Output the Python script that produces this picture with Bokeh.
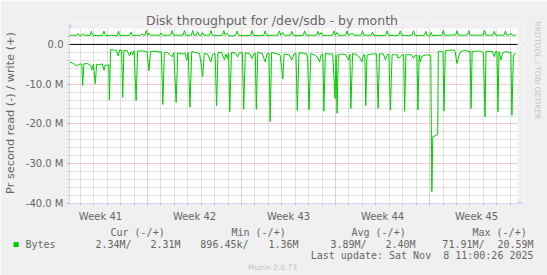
from bokeh.plotting import figure
from bokeh.models import (Range1d, FixedTicker, Grid, Span, Arrow, NormalHead,
                          BoxAnnotation, Title)
from bokeh.embed import file_html
from bokeh.resources import INLINE

# ---- data: days since Sun 2025-10-05 00:00, values in M bytes/s ----
read_day = [1.19, 1.49, 1.71, 1.93, 2.10, 2.17, 2.26, 2.52, 2.74, 2.87, 2.97, 3.11, 3.21, 3.41,
            3.63, 3.76, 3.85, 4.00, 4.11, 4.16, 4.25, 4.45, 4.67, 4.82, 4.93, 5.07, 5.15, 5.24,
            5.48, 5.67, 5.78, 5.90, 6.00, 6.15, 6.26, 6.52, 6.74, 6.96, 7.11, 7.22, 7.55, 7.85,
            8.03, 8.14, 8.25, 8.51, 8.83, 8.96, 9.13, 9.25, 9.42, 9.67, 9.77, 9.92, 10.03, 10.16,
            10.29, 10.58, 10.88, 11.10, 11.23, 11.47, 11.72, 11.84, 12.03, 12.14, 12.25, 12.51,
            12.73, 12.84, 12.95, 13.04, 13.12, 13.25, 13.54, 13.71, 13.84, 14.06, 14.16, 14.28,
            14.58, 14.78, 14.91, 15.02, 15.10, 15.21, 15.54, 15.76, 15.89, 16.04, 16.13, 16.24,
            16.65, 16.87, 17.07, 17.17, 17.54, 17.74, 17.91, 18.05, 18.15, 18.28, 18.57, 18.87,
            18.93, 19.02, 19.16, 19.53, 19.68, 19.81, 19.93, 20.05, 20.13, 20.24, 20.50, 20.79,
            20.96, 21.04, 21.11, 21.21, 21.46, 21.75, 21.97, 22.07, 22.14, 22.27, 22.57, 22.84,
            22.96, 23.08, 23.18, 23.25, 23.34, 23.68, 24.05, 24.17, 24.27, 24.56, 24.71, 24.84,
            24.97, 25.08, 25.21, 25.60, 25.65, 25.82, 25.97, 26.07, 26.14, 26.24, 26.64, 26.80,
            26.93, 27.06, 27.13, 27.23, 27.30, 27.43, 27.74, 27.97, 28.09, 28.17, 28.24, 28.41,
            28.61, 28.65, 28.85, 29.00, 29.07, 29.17, 29.44, 29.74, 29.89, 30.04, 30.19, 30.33,
            30.70, 30.85, 31.02, 31.09, 31.17, 31.44, 31.81, 32.01, 32.13, 32.20, 32.48, 32.70,
            32.82, 32.92, 33.02, 33.09, 33.17, 33.31, 33.44, 33.66, 33.94, 34.05, 34.13, 34.24,
            34.43]
read_val = [-4.4, -4.8, -5.4, -5.0, -4.9, -10.3, -4.9, -4.8, -5.2, -6.4, -5.0, -9.9, -5.0, -5.1,
            -4.9, -6.5, -5.2, -5.3, -5.1, -14.0, -1.3, -1.4, -1.5, -2.9, -1.4, -1.5, -13.3, -1.5,
            -1.6, -2.9, -1.8, -2.6, -1.6, -14.1, -1.7, -1.6, -1.7, -1.8, -6.6, -1.8, -1.7, -1.9,
            -1.8, -15.1, -2.0, -2.1, -3.1, -2.1, -14.6, -2.1, -2.3, -2.4, -2.1, -3.9, -2.0, -15.8,
            -1.8, -2.0, -2.3, -8.1, -2.3, -2.4, -4.4, -2.5, -2.3, -15.4, -2.0, -2.0,
            -3.9, -2.4, -3.5, -2.2, -16.9, -2.0, -2.2, -3.1, -2.1, -2.1, -16.3, -2.1,
            -2.3, -3.5, -2.4, -2.2, -16.3, -2.0, -2.3, -4.4, -2.4, -2.2, -19.4, -2.0,
            -2.4, -2.6, -8.7, -2.4, -2.6, -3.9, -2.4, -2.2, -16.6, -2.1, -2.2, -2.4,
            -4.4, -16.5, -2.3, -2.8, -3.4, -4.4, -2.6, -2.4, -16.8, -2.3, -2.4, -2.4,
            -13.6, -2.6, -17.3, -2.6, -2.4, -2.6, -3.9, -2.5, -16.1, -2.3, -2.6, -3.5,
            -4.4, -2.6, -2.6, -15.4, -2.7, -2.4, -2.4, -16.1, -2.4, -2.4, -3.9, -2.6,
            -2.4, -16.5, -2.6, -2.6, -3.5, -3.1, -2.6, -2.6, -16.8, -2.6, -2.6, -3.5,
            -2.7, -2.7, -16.5, -2.7, -4.4, -3.0, -2.6, -2.7, -2.7, -37.0, -23.2, -23.0,
            -22.6, -1.8, -1.7, -1.9, -16.8, -1.6, -1.5, -1.4, -1.6, -4.8, -2.7, -1.8,
            -1.4, -1.8, -1.8, -16.1, -1.8, -1.7, -1.7, -2.1, -18.2, -1.7, -1.8, -1.8,
            -3.1, -1.8, -1.8, -16.9, -1.8, -3.9, -2.1, -1.8, -2.1, -1.9, -17.8, -2.7,
            -2.34]

write_day = [1.19, 1.73, 1.83, 1.93, 2.10, 2.20, 2.30, 2.72, 2.82, 2.92, 3.30, 3.66, 3.76, 3.86,
             4.30, 4.74, 4.84, 4.94, 5.30, 5.68, 5.78, 5.88, 6.20, 6.49, 6.59, 6.69, 6.81, 6.91,
             7.01, 7.11, 7.21, 7.60, 7.92, 8.02, 8.12, 8.50, 8.73, 8.83, 8.93, 9.30, 9.65, 9.75,
             9.85, 10.26, 10.36, 10.46, 10.63, 10.73, 10.83, 11.00, 11.10, 11.20, 11.62, 11.72,
             11.82, 12.20, 12.58, 12.68, 12.78, 12.93, 13.03, 13.30, 13.57, 13.67, 13.77, 14.20,
             14.68, 14.78, 14.88, 15.30, 15.66, 15.76, 15.86, 16.30, 16.72, 16.82, 16.92, 17.07,
             17.17, 17.64, 17.74, 17.84, 18.20, 18.60, 18.70, 18.80, 19.20, 19.58, 19.68, 19.78,
             19.93, 20.03, 20.40, 20.77, 20.87, 20.97, 21.11, 21.21, 21.75, 21.85, 21.95, 22.27,
             22.37, 22.91, 23.01, 23.11, 23.65, 23.75, 23.85, 24.30, 24.74, 24.84, 24.94, 25.40,
             25.72, 25.82, 25.92, 26.30, 26.70, 26.80, 26.90, 27.30, 27.62, 27.72, 27.82, 28.01,
             28.11, 28.21, 28.60, 28.92, 29.02, 29.12, 29.60, 29.94, 30.04, 30.14, 30.50, 30.82,
             30.92, 31.02, 31.50, 31.99, 32.09, 32.19, 32.50, 32.72, 32.82, 32.92, 33.30, 33.55,
             33.65, 33.75, 33.95, 34.05, 34.15, 34.43]
write_val = [2.3, 2.3, 2.7, 2.25, 2.3, 2.7, 2.3, 2.25, 3.3, 2.3, 2.2, 2.3, 3.35, 2.25,
             2.3, 2.2, 3.35, 2.3, 2.25, 2.3, 3.1, 2.25, 2.3, 2.3, 2.6, 2.3, 2.3, 3.5,
             2.3, 2.85, 2.3, 2.35, 2.3, 2.9, 2.3, 2.3, 2.35, 3.5, 2.3, 2.3, 2.35, 3.5,
             2.3, 2.3, 3.5, 2.3, 2.3, 3.2, 2.3, 2.3, 3.0, 2.3, 2.3, 3.5,
             2.3, 2.25, 2.3, 3.5, 2.3, 2.8, 2.2, 2.1, 2.3, 3.4, 2.3, 2.2,
             2.3, 3.5, 2.3, 2.2, 2.3, 3.4, 2.25, 2.3, 2.3, 3.4, 2.3, 3.0,
             2.3, 2.3, 3.3, 2.3, 2.2, 2.3, 3.4, 2.3, 2.3, 2.3, 3.3, 2.3,
             3.0, 2.3, 2.25, 2.3, 3.4, 2.3, 3.0, 2.3, 2.3, 3.4, 2.3, 2.8,
             2.3, 2.3, 3.4, 2.3, 2.3, 3.1, 2.3, 2.2, 2.3, 3.4, 2.3, 2.2,
             2.3, 3.4, 2.3, 2.25, 2.3, 3.4, 2.3, 2.2, 2.3, 3.3, 2.2, 2.1,
             3.0, 2.2, 2.3, 2.3, 3.5, 2.3, 2.35, 2.35, 3.4, 2.35, 2.3, 2.35,
             3.4, 2.35, 2.3, 2.35, 3.6, 2.35, 2.3, 2.35, 3.3, 2.35, 2.3, 2.35,
             3.4, 2.35, 2.35, 2.8, 2.35, 2.31]

week_mid = [3.5, 10.5, 17.5, 24.5, 31.5]
week_labels = ["Week 41", "Week 42", "Week 43", "Week 44", "Week 45"]
week_start = [7, 14, 21, 28]
day_ticks = [2, 3, 4, 5, 6, 7, 8, 9, 10, 11, 12, 13, 14, 15, 16, 17, 18, 19, 20, 21, 22,
             23, 24, 25, 26, 27, 28, 29, 30, 31, 32, 33, 34]
day_grid = [2, 3, 4, 5, 6, 8, 9, 10, 11, 12, 13, 15, 16, 17, 18, 19, 20, 22,
            23, 24, 25, 26, 27, 29, 30, 31, 32, 33, 34]
y_major = [0, -10, -20, -30, -40]
y_major_labels = ["0.0", "-10.0 M", "-20.0 M", "-30.0 M", "-40.0 M"]
y_minor = [2, -2, -4, -6, -8, -12, -14, -16, -18, -22, -24, -26, -28, -32, -34, -36, -38]

title_text = "Disk throughput for /dev/sdb - by month"
y_title = "Pr second read (-) / write (+)"
series_name = "Bytes"
stat_headers = ["Cur (-/+)", "Min (-/+)", "Avg (-/+)", "Max (-/+)"]
stat_values = ["2.34M/", "2.31M", "896.45k/", "1.36M", "3.89M/", "2.40M", "71.91M/", "20.59M"]
last_update = "Last update: Sat Nov\u00a0 8 11:00:26 2025"
footer = "Munin 2.0.73"
watermark = "RRDTOOL / TOBI OETIKER"

# ---- styles / layout ----
GREEN = "#00CC00"
AXIS = "#CFD6F8"
BACK = "#F0F0F0"
TXT = "#666666"
WTXT = "#C4C4C4"
FONT = "DejaVu Sans"
MONO = "DejaVu Sans Mono"
FH = 1.18            # estimated font box height / font size
LSHIFT = 4           # measured extra shift of left-aligned titles

W, H = 547, 275
L, R, T, B = 66, 24, 22, 72
FRAME_R = W - R

X0, X1 = 1.19, 34.55       # plotted period
Y0, Y1 = -40.0, 4.0        # value axis limits
x_pad = 6 / 13.52          # axis line overhang (arrow)
y_pad = 6 / 3.977

p = figure(width=W, height=H, title=title_text,
           x_range=Range1d(X0, X1 + x_pad), y_range=Range1d(Y0, Y1 + y_pad),
           output_backend="svg", toolbar_location=None,
           min_border_left=L, min_border_right=R, min_border_top=T, min_border_bottom=B)
p.background_fill_color = "white"
p.border_fill_color = BACK
p.outline_line_color = None
p.xgrid.visible = False
p.ygrid.visible = False

p.title.text_font = FONT
p.title.text_font_size = "12.5px"
p.title.text_font_style = "normal"
p.title.text_color = TXT
p.title.align = "left"
p.title.offset = 146.5 - L - LSHIFT
p.title.vertical_align = "bottom"
p.title.standoff = -11.9

# grids
for dim, ticks, col, alpha in [(0, day_grid, "#8F8F8F", 0.5), (1, y_minor, "#8F8F8F", 0.5),
                               (0, week_start, "#DE4F4F", 0.6), (1, y_major[1:], "#DE4F4F", 0.6)]:
    p.add_layout(Grid(dimension=dim, ticker=FixedTicker(ticks=ticks),
                      grid_line_color=col, grid_line_alpha=alpha,
                      grid_line_dash="1 1", grid_line_width=1))

p.add_layout(Span(location=0, dimension="width", line_color="black", line_width=1,
                  level="underlay"))
p.add_layout(BoxAnnotation(bottom=Y1, fill_color=BACK, fill_alpha=1, line_color=None,
                           level="underlay"))
p.add_layout(BoxAnnotation(left=X1, fill_color=BACK, fill_alpha=1, line_color=None,
                           level="underlay"))

# x axis
xa = p.xaxis[0]
xa.ticker = FixedTicker(ticks=week_mid, minor_ticks=day_ticks)
xa.major_label_overrides = {t: s for t, s in zip(week_mid, week_labels)}
xa.major_tick_line_color = None
xa.major_tick_in = 0
xa.major_tick_out = 0
xa.minor_tick_line_color = "#BBBBBB"
xa.minor_tick_in = 0
xa.minor_tick_out = 2
xa.axis_line_color = AXIS
xa.major_label_text_font = FONT
xa.major_label_text_font_size = "10px"
xa.major_label_text_color = TXT
xa.major_label_standoff = 5

# y axis
ya = p.yaxis[0]
ya.ticker = FixedTicker(ticks=y_major, minor_ticks=y_minor)
ya.major_label_overrides = {t: s for t, s in zip(y_major, y_major_labels)}
ya.major_tick_line_color = "#E08080"
ya.major_tick_in = 0
ya.major_tick_out = 2
ya.minor_tick_line_color = "#BBBBBB"
ya.minor_tick_in = 0
ya.minor_tick_out = 2
ya.axis_line_color = AXIS
ya.major_label_text_font = FONT
ya.major_label_text_font_size = "10px"
ya.major_label_text_color = TXT
ya.major_label_standoff = 4
ya.axis_label = y_title
ya.axis_label_text_font = FONT
ya.axis_label_text_font_size = "11.3px"
ya.axis_label_text_font_style = "normal"
ya.axis_label_text_color = TXT
ya.axis_label_standoff = 6

# series
p.line(write_day, write_val, line_color=GREEN, line_width=1)
p.line(read_day, read_val, line_color=GREEN, line_width=1)

# axis arrows
p.add_layout(Arrow(end=NormalHead(size=5, fill_color=AXIS, line_color=AXIS),
                   x_start=X1, y_start=Y0, x_end=X1 + x_pad, y_end=Y0,
                   line_color=AXIS, line_width=1))
p.add_layout(Arrow(end=NormalHead(size=5, fill_color=AXIS, line_color=AXIS),
                   x_start=X0, y_start=Y1, x_end=X0, y_end=Y1 + y_pad,
                   line_color=AXIS, line_width=1))


def gap(side, h):
    p.add_layout(Title(text=" ", text_font=MONO, text_font_size="10px",
                       text_font_style="normal", standoff=h - 2 - FH * 10), side)


def note(text, x, align="left", size=10.0, font=MONO, color=TXT, side="below",
         valign="bottom", fill=None, off=None):
    if off is None:
        off = (x - L - LSHIFT) if align == "left" else (FRAME_R - x)
    t = Title(text=text, align=align, offset=off, vertical_align=valign,
              standoff=-(2 + FH * size), text_font=font,
              text_font_size=f"{size}px", text_font_style="normal", text_color=color)
    if fill is not None:
        t.background_fill_color = fill
    p.add_layout(t, side)


# legend block (rrdtool style)
gap("below", 8)
for x, s in zip([111, 232, 352, 473], stat_headers):
    note(s, x)
gap("below", 13)
note("\u00a0\u00a0", 14, size=4.3, color=GREEN, fill=GREEN)
note(series_name, 26)
for x, s in zip([131, 180, 248, 298, 366, 415, 484, 533], stat_values):
    note(s, x, align="right")
gap("below", 12)
note(last_update, 533, align="right")
gap("below", 13)
note(footer, 248.5, size=7.5, font=FONT, color=WTXT)

# vertical watermark at the right edge
gap("right", 14)
note(watermark, 0, size=7.6, font=FONT, color=WTXT, side="right", valign="top", off=-1.0)

open("out.html", "w").write(file_html(p, INLINE))
